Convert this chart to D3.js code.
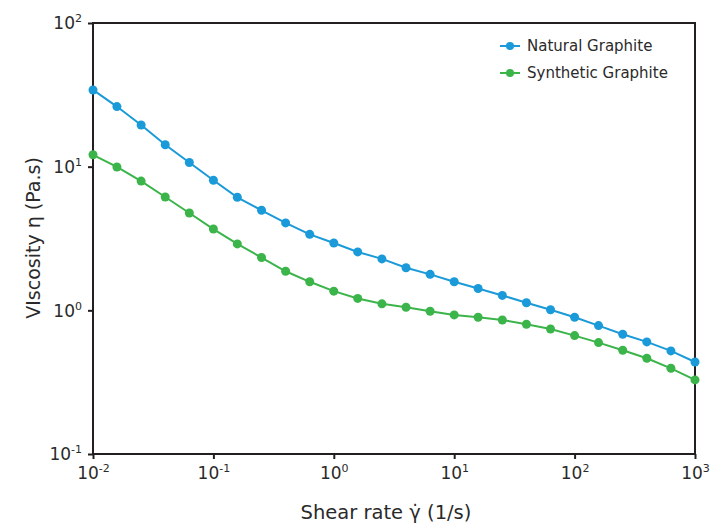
<!DOCTYPE html>
<html>
<head>
<meta charset="utf-8">
<script src="https://cdn.jsdelivr.net/npm/d3@7"></script>
<style>
  body { margin: 0; background: #fff; }
  text { font-family: "DejaVu Sans", "Open Sans", sans-serif; fill: #2a2a2a; }
</style>
</head>
<body>
<div id="chart"></div>
<script>
// shear rate (1/s), 5 points per decade
var shearRate = [0.01, 0.0158, 0.0251, 0.0398, 0.0631,
  0.1, 0.158, 0.251, 0.398, 0.631,
  1, 1.58, 2.51, 3.98, 6.31,
  10, 15.8, 25.1, 39.8, 63.1,
  100, 158, 251, 398, 631, 1000];
// viscosity (Pa.s)
var naturalGraphite = [34.2, 26.2, 19.5, 14.2, 10.7,
  8.04, 6.12, 4.97, 4.06, 3.38,
  2.94, 2.55, 2.28, 1.98, 1.78,
  1.58, 1.42, 1.27, 1.13, 1.01,
  0.895, 0.783, 0.682, 0.603, 0.522, 0.437];
var syntheticGraphite = [12.1, 9.95, 7.94, 6.15, 4.76,
  3.68, 2.90, 2.33, 1.87, 1.58,
  1.36, 1.21, 1.11, 1.05, 0.986,
  0.929, 0.895, 0.857, 0.80, 0.742,
  0.667, 0.596, 0.527, 0.464, 0.395, 0.328];
var seriesNames = ["Natural Graphite", "Synthetic Graphite"];
var seriesColors = ["#1a9ad8", "#3bb44a"];
var xTicks = [1e-2, 1e-1, 1e0, 1e1, 1e2, 1e3];
var yTicks = [1e-1, 1e0, 1e1, 1e2];

var width = 711, height = 525;
var margin = {top: 23, right: 16, bottom: 71, left: 93};

var svg = d3.select("#chart").append("svg")
  .attr("width", width).attr("height", height);

var x = d3.scaleLog().domain([1e-2, 1e3]).range([margin.left, width - margin.right]);
var y = d3.scaleLog().domain([1e-1, 1e2]).range([height - margin.bottom, margin.top]);

// power-of-ten label with superscript
function powLabel(sel) {
  sel.each(function(d) {
    var t = d3.select(this);
    t.text(null);
    t.append("tspan").text("10");
    t.append("tspan").attr("dy", -7).style("font-size", "11px")
      .text(Math.round(Math.log10(d)));
  });
}

var xAxis = svg.append("g")
  .attr("transform", "translate(0," + (height - margin.bottom) + ")")
  .call(d3.axisBottom(x).tickValues(xTicks).tickSize(5).tickPadding(6).tickFormat(function() { return ""; }));
var yAxis = svg.append("g")
  .attr("transform", "translate(" + margin.left + ",0)")
  .call(d3.axisLeft(y).tickValues(yTicks).tickSize(5).tickPadding(6).tickFormat(function() { return ""; }));

[xAxis, yAxis].forEach(function(ax) {
  ax.select(".domain").remove();
  ax.selectAll("line").attr("stroke", "#231f20").attr("stroke-width", 2);
});

xAxis.selectAll(".tick text")
  .style("font-size", "17px").attr("dy", null).attr("y", 25)
  .attr("text-anchor", "middle").attr("fill", "#2a2a2a")
  .call(powLabel);
yAxis.selectAll(".tick text")
  .style("font-size", "17px").attr("dy", "0.35em").attr("x", -11)
  .attr("text-anchor", "end").attr("fill", "#2a2a2a")
  .call(powLabel);

// frame
svg.append("rect")
  .attr("x", margin.left).attr("y", margin.top)
  .attr("width", width - margin.right - margin.left)
  .attr("height", height - margin.bottom - margin.top)
  .attr("fill", "none").attr("stroke", "#231f20").attr("stroke-width", 2);

var line = d3.line()
  .x(function(d) { return x(d[0]); })
  .y(function(d) { return y(d[1]); });

[naturalGraphite, syntheticGraphite].forEach(function(vals, i) {
  var pts = shearRate.map(function(s, j) { return [s, vals[j]]; });
  var g = svg.append("g");
  g.append("path").datum(pts)
    .attr("d", line).attr("fill", "none")
    .attr("stroke", seriesColors[i]).attr("stroke-width", 2);
  g.selectAll("circle").data(pts).enter().append("circle")
    .attr("cx", function(d) { return x(d[0]); })
    .attr("cy", function(d) { return y(d[1]); })
    .attr("r", 4.5).attr("fill", seriesColors[i]);
});

// legend
var legend = svg.append("g").attr("transform", "translate(500,46)");
seriesNames.forEach(function(name, i) {
  var row = legend.append("g").attr("transform", "translate(0," + (i * 27) + ")");
  row.append("line").attr("x1", 0).attr("x2", 20)
    .attr("stroke", seriesColors[i]).attr("stroke-width", 2);
  row.append("circle").attr("cx", 10).attr("r", 4).attr("fill", seriesColors[i]);
  row.append("text").attr("x", 27).attr("dy", "0.35em")
    .style("font-size", "15px").text(name);
});

// axis titles
svg.append("text")
  .attr("x", (margin.left + width - margin.right) / 2 - 8)
  .attr("y", 519)
  .attr("text-anchor", "middle").style("font-size", "19.5px")
  .text("Shear rate \u03b3\u0307 (1/s)");
svg.append("text")
  .attr("transform", "translate(40,238) rotate(-90)")
  .attr("text-anchor", "middle").style("font-size", "19px")
  .text("VIscosity \u03b7 (Pa.s)");
</script>
</body>
</html>
